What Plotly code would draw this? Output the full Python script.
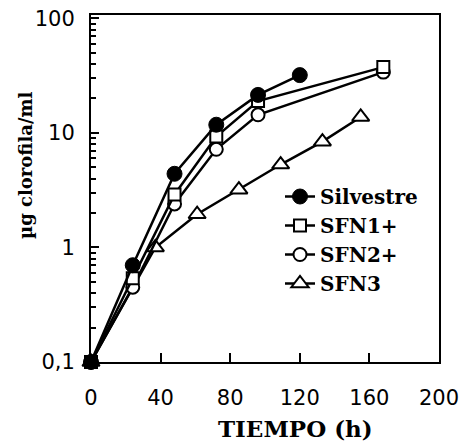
import plotly.graph_objects as go

# Data
t_silv = [0, 24, 48, 72, 96, 120]
silvestre = [0.1, 0.7, 4.4, 11.8, 21.5, 32]

t_sfn = [0, 24, 48, 72, 96, 168]
sfn1 = [0.1, 0.54, 2.9, 9.3, 19, 37.6]
sfn2 = [0.1, 0.45, 2.4, 7.2, 14.4, 34]

t_sfn3 = [0, 37, 61, 85, 109, 133, 155]
sfn3 = [0.1, 1.0, 1.95, 3.2, 5.3, 8.4, 13.8]

x_ticks = [0, 40, 80, 120, 160, 200]
y_ticks = [0.1, 1, 10, 100]
y_ticktext = ["0,1", "1", "10", "100"]

W, H = 461, 444
ML, MR, MT, MB = 91, 22, 15, 82

fig = go.Figure()

common = dict(mode="lines+markers", cliponaxis=False,
              line=dict(color="black", width=2.5))

# drawn in reverse so the filled circles sit on top; legend order kept by legendrank
fig.add_trace(go.Scatter(x=t_sfn3, y=sfn3, name="SFN3", legendrank=4,
                         marker=dict(symbol="triangle-up", size=15, color="white",
                                     line=dict(color="black", width=2)),
                         **common))
fig.add_trace(go.Scatter(x=t_sfn, y=sfn2, name="SFN2+", legendrank=3,
                         marker=dict(symbol="circle", size=13, color="white",
                                     line=dict(color="black", width=2)),
                         **common))
fig.add_trace(go.Scatter(x=t_sfn, y=sfn1, name="SFN1+", legendrank=2,
                         marker=dict(symbol="square", size=12, color="white",
                                     line=dict(color="black", width=2)),
                         **common))
fig.add_trace(go.Scatter(x=t_silv, y=silvestre, name="Silvestre", legendrank=1,
                         marker=dict(symbol="circle", size=15, color="black",
                                     line=dict(color="black", width=1)),
                         **common))

minor_vals = [k * 10 ** e for e in (-1, 0, 1) for k in range(2, 10)]

tick_font = dict(family="DejaVu Sans", size=21, color="black")

PW = W - ML - MR
PH = H - MB - MT

fig.update_layout(
    width=W, height=H, autosize=False,
    margin=dict(l=ML, r=MR, t=MT, b=MB, pad=0, autoexpand=False),
    paper_bgcolor="white", plot_bgcolor="white",
    showlegend=True,
    legend=dict(x=(280 - ML) / PW, y=(H - MB - 177) / PH,
                xanchor="left", yanchor="top", traceorder="normal",
                bgcolor="rgba(0,0,0,0)", borderwidth=0,
                font=dict(family="DejaVu Serif", size=20, color="black", weight="bold"),
                itemwidth=30),
    xaxis=dict(range=[0, 200], tickvals=x_ticks, ticks="inside", ticklen=9,
               tickwidth=2, tickcolor="black", showline=True, linecolor="black",
               linewidth=2, mirror=True, showgrid=False, zeroline=False,
               tickfont=tick_font, ticklabelstandoff=16, automargin=False),
    yaxis=dict(type="log", range=[-1, 2.03], tickvals=y_ticks, ticktext=y_ticktext,
               ticks="inside", ticklen=8, tickwidth=2, tickcolor="black",
               showline=True, linecolor="black", linewidth=2, mirror=True,
               showgrid=False, zeroline=False, tickfont=tick_font,
               ticklabelstandoff=10, automargin=False,
               minor=dict(tickvals=minor_vals, ticks="inside", ticklen=5,
                          tickwidth=1.5, tickcolor="black", showgrid=False)),
    annotations=[
        dict(text="TIEMPO (h)", xref="paper", yref="paper",
             x=(295 - ML) / PW, y=-(428 - (H - MB)) / PH,
             xanchor="center", yanchor="middle", showarrow=False,
             font=dict(family="DejaVu Serif", size=23, color="black", weight="bold")),
        dict(text="µg clorofila/ml", xref="paper", yref="paper",
             x=-(ML - 25) / PW, y=((H - MB) - 165) / PH,
             xanchor="center", yanchor="middle", textangle=-90, showarrow=False,
             font=dict(family="DejaVu Serif", size=18, color="black", weight="bold")),
    ],
)

fig.write_html("out.html")
